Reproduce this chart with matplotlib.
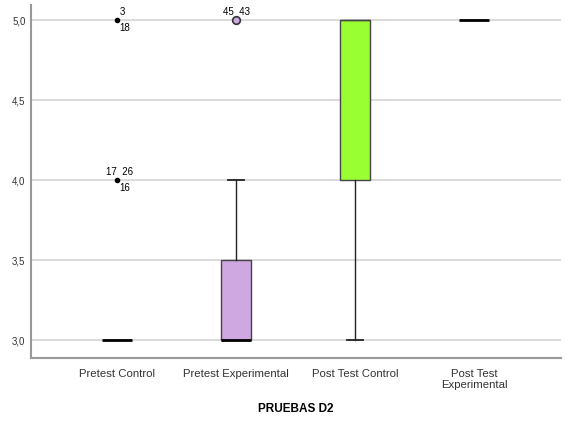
import matplotlib
matplotlib.use('Agg')
import matplotlib.pyplot as plt

plt.rcParams['font.family'] = ['Liberation Sans', 'DejaVu Sans']

# Datos
grupos = ['Pretest Control', 'Pretest Experimental', 'Post Test Control', 'Post Test\nExperimental']
q1 = [3.0, 3.0, 4.0, 5.0]
mediana = [3.0, 3.0, 5.0, 5.0]
q3 = [3.0, 3.5, 5.0, 5.0]
bigote_inf = [3.0, 3.0, 3.0, 5.0]
bigote_sup = [3.0, 4.0, 5.0, 5.0]
atipicos = [[4.0, 5.0], [5.0], [], []]
colores = ['white', '#cfa8e2', '#99ff33', 'white']

# etiquetas de casos atípicos: (grupo, valor, texto arriba, texto abajo)
casos = [(0, 5.0, '3', '18'), (0, 4.0, '17  26', '16'), (1, 5.0, '45  43', '')]

stats = []
for i in range(len(grupos)):
    stats.append({'q1': q1[i], 'med': mediana[i], 'q3': q3[i],
                  'whislo': bigote_inf[i], 'whishi': bigote_sup[i],
                  'fliers': []})

fig = plt.figure(figsize=(5.7, 4.3), dpi=100)
ax = fig.add_axes([0.0544, 0.1674, 0.93, 0.821])

ax.set_axisbelow(True)
ax.yaxis.grid(True, color='#d4d4d4', linewidth=1.2)

pos = [1, 2, 3, 4]
bp = ax.bxp(stats, positions=pos, widths=0.25, patch_artist=True,
            showfliers=False,
            boxprops=dict(edgecolor='#444444', linewidth=1),
            medianprops=dict(color='black', linewidth=2),
            whiskerprops=dict(color='#222222', linewidth=1),
            capprops=dict(color='#222222', linewidth=1.3),
            capwidths=0.13)
for caja, c in zip(bp['boxes'], colores):
    caja.set_facecolor(c)
# cajas sin rango (q1 == q3) no muestran borde
for i, caja in enumerate(bp['boxes']):
    if q1[i] == q3[i]:
        caja.set_edgecolor('none')
# mediana sobre el borde superior de la caja: se ve como el borde
for i, med in enumerate(bp['medians']):
    if mediana[i] == q3[i] and q1[i] != q3[i]:
        med.set_color('#444444')
        med.set_linewidth(1)
for i, cap in enumerate(bp['caps']):
    g = i // 2
    if bigote_inf[g] == bigote_sup[g] or (i % 2 == 0 and bigote_inf[g] == q1[g]) or (i % 2 == 1 and bigote_sup[g] == q3[g]):
        cap.set_visible(False)

# atípicos: extremos (*) en negro, atípicos (o) con relleno
ax.plot([pos[0]] * len(atipicos[0]), atipicos[0], 'o', color='black', markersize=3)
ax.plot([pos[1]] * len(atipicos[1]), atipicos[1], 'o', markerfacecolor='#cfa8e2',
        markeredgecolor='#333333', markersize=5.5, markeredgewidth=1.2)

for g, v, arriba, abajo in casos:
    if g == 0:
        ax.text(pos[g] + 0.02, v + 0.02, arriba, fontsize=7, ha='center' if ' ' in arriba else 'left', va='bottom')
    else:
        ax.text(pos[g], v + 0.02, arriba, fontsize=7, ha='center', va='bottom')
    if abajo:
        ax.text(pos[g] + 0.02, v - 0.02, abajo, fontsize=7, ha='left', va='top')

ax.set_xlim(0.277, 4.73)
ax.set_ylim(2.8875, 5.094)
ax.set_yticks([3.0, 3.5, 4.0, 4.5, 5.0])
ax.set_yticklabels(['3,0', '3,5', '4,0', '4,5', '5,0'], fontsize=7)
ax.set_xticks(pos)
ax.set_xticklabels(grupos, fontsize=8.2, linespacing=1.15)
ax.tick_params(axis='both', length=0, colors='#333333')
ax.tick_params(axis='x', pad=8)
ax.tick_params(axis='y', pad=4)
for s in ['top', 'right']:
    ax.spines[s].set_visible(False)
for s in ['left', 'bottom']:
    ax.spines[s].set_color('#999999')
    ax.spines[s].set_linewidth(1.5)

ax.set_xlabel('PRUEBAS D2', fontsize=8.5, fontweight='bold', labelpad=9)

fig.savefig('out.png', dpi=100)
